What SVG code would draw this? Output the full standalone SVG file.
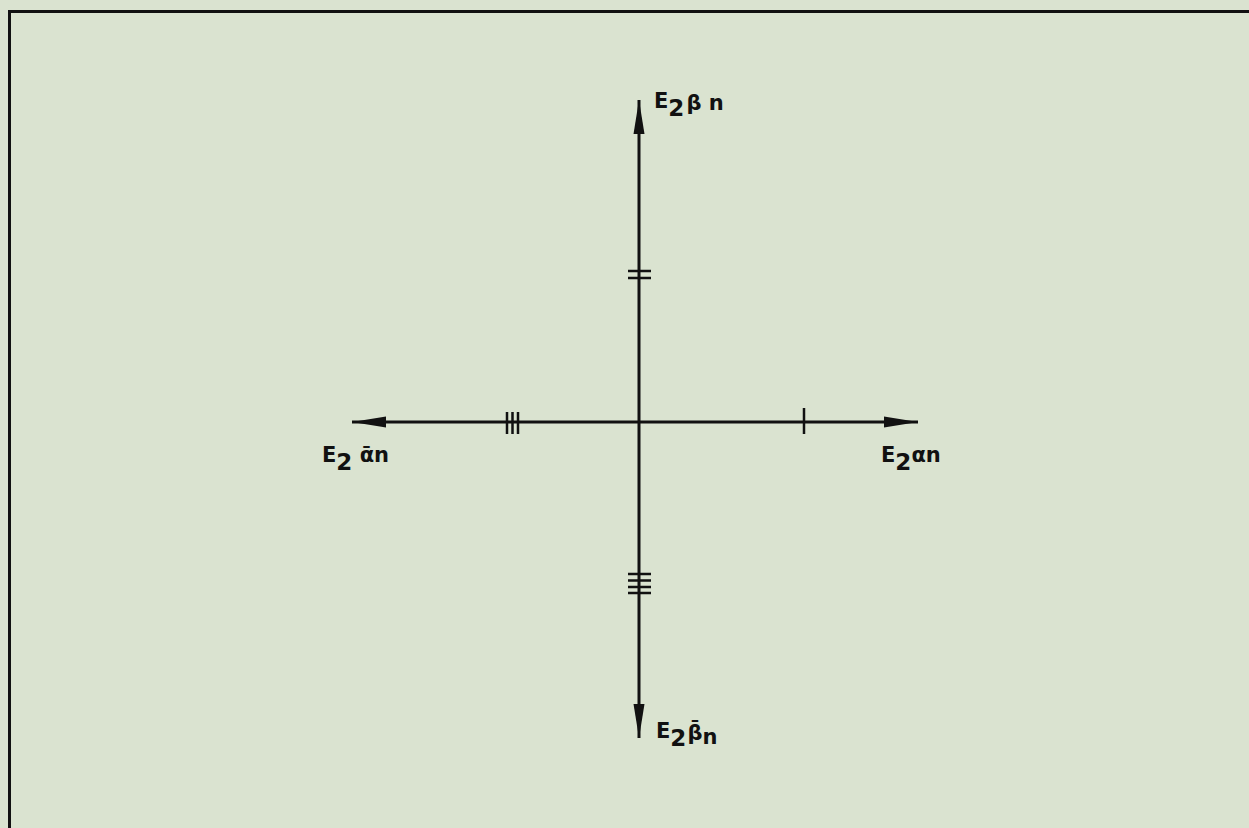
<svg xmlns="http://www.w3.org/2000/svg" width="1249" height="828" viewBox="0 0 1249 828">
<style>
.ax{stroke:#111;stroke-width:3;fill:none}
.tk{stroke:#111;stroke-width:2.5;fill:none}
.lb{font-family:"DejaVu Sans","Liberation Sans",sans-serif;font-size:21px;font-weight:600;fill:#111}
.sb{font-size:23px}
</style>
<defs>
<marker id="ah" viewBox="0 0 34 12" refX="34" refY="6" markerWidth="34" markerHeight="12" markerUnits="userSpaceOnUse" orient="auto">
<path d="M0,0.5 L34,6 L0,11.5 Z" fill="#111"/>
</marker>
</defs>
<rect width="1249" height="828" fill="#dae3d0"/>
<g id="frame">
<path d="M9.5,828 V11.5 H1249" class="ax" stroke-width="2.5"/>
</g>
<g id="connectors">
<line x1="639" y1="422" x2="918" y2="422" class="ax" marker-end="url(#ah)"/>
<line x1="639" y1="422" x2="352" y2="422" class="ax" marker-end="url(#ah)"/>
<line x1="639" y1="422" x2="639" y2="100" class="ax" marker-end="url(#ah)"/>
<line x1="639" y1="422" x2="639" y2="738" class="ax" marker-end="url(#ah)"/>
</g>
<g id="ticks">
<path class="tk" d="M804,408 V434"/>
<path class="tk" d="M507,412 V434 M512.5,412 V434 M518,412 V434"/>
<path class="tk" d="M628,271 H651 M628,278 H651"/>
<path class="tk" d="M628,574 H651 M628,580.5 H651 M628,587 H651 M628,593 H651"/>
</g>
<g id="label-beta">
<text class="lb" x="654" y="108">E<tspan class="sb" dy="8">2</tspan><tspan dy="-6" dx="2">β n</tspan></text>
</g>
<g id="label-alphabar">
<text class="lb" x="322" y="462">E<tspan class="sb" dy="8">2</tspan><tspan dy="-8"> ᾱn</tspan></text>
</g>
<g id="label-alpha">
<text class="lb" x="881" y="462">E<tspan class="sb" dy="8">2</tspan><tspan dy="-8">αn</tspan></text>
</g>
<g id="label-betabar">
<text class="lb" x="656" y="738">E<tspan class="sb" dy="8">2</tspan><tspan dy="-6" dx="1">β̄</tspan><tspan dy="4">n</tspan></text>
</g>
</svg>
